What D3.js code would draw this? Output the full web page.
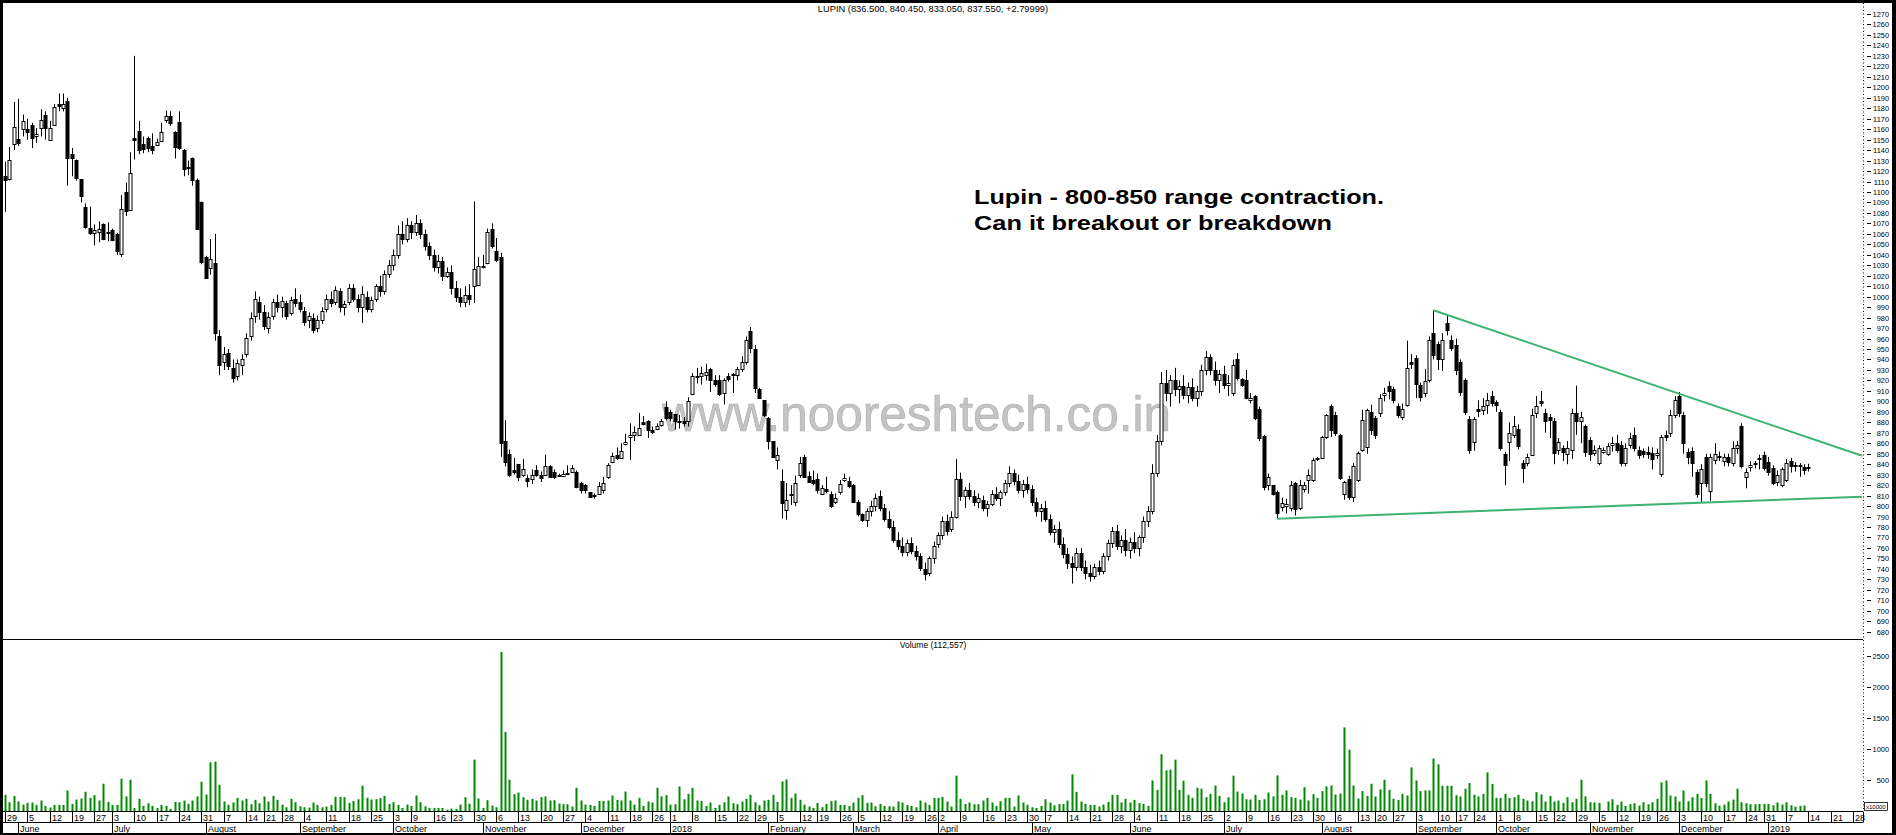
<!DOCTYPE html>
<html><head><meta charset="utf-8">
<script src="https://cdn.jsdelivr.net/npm/d3@7"></script>
<style>
html,body{margin:0;padding:0;background:#fff;overflow:hidden;}
svg{display:block;}
text{font-family:"Liberation Sans",Arial,sans-serif;}
</style></head><body>
<svg id="c" width="1896" height="835"></svg>
<script>
// ---------------- DATA ----------------
const title = "LUPIN (836.500, 840.450, 833.050, 837.550, +2.79999)";
const volumeTitle = "Volume (112,557)";
const noteLines = ["Lupin - 800-850 range contraction.", "Can it breakout or breakdown"];
const watermark = "www.nooreshtech.co.in";
const firstDay = "2017-05-29";
const lastAxisDay = "2019-01-30";
const holidays = ["2017-06-26","2017-08-15","2017-08-25","2017-10-02","2017-10-20","2017-12-25",
 "2018-01-26","2018-02-13","2018-03-02","2018-03-29","2018-03-30","2018-05-01","2018-08-15","2018-08-22",
 "2018-09-13","2018-09-20","2018-10-02","2018-10-18","2018-11-08","2018-11-23","2018-12-25"];
const monthNames = ["January","February","March","April","May","June","July","August","September","October","November","December"];
const priceTicks = [680,690,700,710,720,730,740,750,760,770,780,790,800,810,820,830,840,850,860,870,880,890,900,910,920,930,940,950,960,970,980,990,1000,1010,1020,1030,1040,1050,1060,1070,1080,1090,1100,1110,1120,1130,1140,1150,1160,1170,1180,1190,1200,1210,1220,1230,1240,1250,1260,1270];
const volumeTicks = [500,1000,1500,2000,2500];
const volumeUnit = "x10000";
// trend lines: [trading-day index, price]
const upperTrend = [[320,987],[416,848]];
const lowerTrend = [[285,788],[416,809]];

// daily candles [open, high, low, close] from 29 May 2017
const ohlc = [
// 0
[1115,1129,1081,1111],[1112,1143,1111,1131],[1146,1186,1140,1162],[1151,1189,1144,1147],[1160,1174,1153,1168],
[1160,1170,1150,1157],[1164,1166,1142,1152],[1153,1161,1147,1155],[1161,1179,1153,1169],[1174,1177,1150,1161],
// 10
[1150,1168,1150,1161],[1164,1184,1163,1181],[1184,1194,1177,1182],[1180,1194,1177,1184],[1187,1190,1106,1132],
[1136,1142,1115,1132],[1131,1131,1111,1113],[1112,1112,1090,1096],[1086,1089,1065,1067],[1066,1086,1059,1061],
// 20
[1061,1069,1049,1064],[1062,1072,1052,1065],[1069,1070,1054,1055],[1062,1071,1053,1061],[1064,1065,1053,1054],
[1060,1061,1040,1044],[1041,1097,1038,1084],[1100,1109,1077,1082],[1083,1138,1082,1118],[1152,1230,1131,1150],
// 30
[1158,1168,1136,1140],[1146,1153,1137,1141],[1152,1153,1138,1142],[1144,1156,1136,1140],[1145,1151,1144,1148],
[1149,1166,1148,1157],[1169,1178,1166,1173],[1173,1177,1163,1166],[1157,1158,1132,1143],[1167,1177,1140,1142],
// 40
[1140,1141,1115,1122],[1123,1130,1116,1124],[1132,1133,1106,1111],[1111,1113,1064,1065],[1090,1091,1031,1033],
[1038,1039,1017,1018],[1027,1055,1021,1036],[1032,1060,958,965],[962,968,925,935],[938,952,930,945],
// 50
[946,950,930,934],[932,940,918,922],[924,940,920,937],[935,945,925,940],[945,965,942,961],
[962,985,958,980],[982,1005,975,998],[995,1000,978,985],[985,992,968,972],[970,985,965,981],
// 60
[982,998,978,995],[995,1002,985,990],[990,1000,980,996],[994,996,978,982],[984,1000,982,997],
[998,1008,990,994],[995,1002,985,988],[986,990,972,976],[978,985,970,982],[980,984,965,968],
// 70
[970,982,966,978],[978,990,974,986],[988,1002,985,998],[998,1005,990,994],[995,1010,992,1006],
[1005,1008,985,990],[990,996,982,993],[995,1012,992,1008],[1008,1012,995,998],[998,1002,985,990],
// 80
[990,1010,975,1003],[1000,1005,985,988],[988,1000,985,997],[998,1012,995,1010],[1010,1020,1000,1005],
[1005,1025,1002,1022],[1022,1035,1018,1030],[1030,1045,1025,1040],[1040,1068,1036,1060],[1060,1072,1050,1055],
// 90
[1055,1075,1052,1068],[1068,1072,1055,1062],[1062,1078,1058,1070],[1070,1074,1055,1060],[1060,1064,1044,1048],
[1048,1052,1035,1040],[1040,1045,1024,1028],[1028,1040,1022,1034],[1034,1038,1015,1020],[1020,1028,1018,1024],
// 100
[1024,1030,1002,1008],[1008,1015,995,1000],[1000,1008,990,995],[995,1010,990,1002],[1002,1012,992,998],
[1010,1091,994,1026],[1011,1038,1010,1029],[1029,1040,1027,1028],[1032,1065,1031,1062],[1065,1070,1046,1048],
// 110
[1044,1056,1033,1035],[1038,1042,847,860],[862,882,838,842],[850,854,828,830],[834,846,830,833],
[840,840,824,828],[830,845,828,835],[827,830,818,824],[826,835,821,830],[834,839,828,830],
// 120
[830,833,823,827],[830,849,829,838],[838,839,827,828],[833,835,826,828],[830,831,828,829],
[829,834,828,831],[831,839,830,832],[833,839,832,836],[833,834,817,818],[822,823,812,815],
// 130
[820,821,812,815],[813,813,809,809],[811,812,807,810],[812,823,811,819],[815,828,812,822],
[828,841,826,839],[842,851,841,848],[849,856,844,846],[846,860,846,853],[859,869,858,861],
// 140
[866,879,844,868],[868,876,862,871],[868,889,867,875],[880,886,877,878],[881,882,865,873],
[873,876,869,871],[874,879,873,876],[877,883,876,881],[895,900,882,884],[890,892,881,884],
// 150
[888,888,873,881],[881,887,874,880],[881,885,876,879],[881,904,876,900],[907,927,906,924],
[923,932,917,924],[924,933,916,927],[925,936,920,928],[931,932,909,920],[920,925,914,917],
// 160
[920,925,905,907],[908,922,897,920],[924,927,919,921],[926,927,908,925],[925,933,920,931],
[931,943,928,938],[938,962,935,959],[967,971,946,951],[950,954,908,913],[912,913,903,903],
// 170
[901,901,885,887],[884,885,854,862],[862,862,846,847],[844,856,835,849],[824,835,788,803],
[796,822,787,806],[811,820,801,812],[804,829,800,822],[830,847,827,841],[847,849,827,828],
// 180
[829,833,822,823],[825,834,820,822],[826,831,812,815],[812,820,811,817],[816,828,812,814],
[812,814,798,800],[804,812,802,808],[813,825,811,821],[825,831,823,827],[824,828,817,819],
// 190
[820,821,803,804],[804,806,790,792],[792,793,785,787],[787,798,780,795],[795,805,790,800],
[800,812,795,808],[810,815,795,798],[798,802,785,788],[788,795,778,780],[780,786,765,768],
// 200
[768,775,758,762],[762,770,752,756],[756,768,752,765],[765,770,754,757],[757,762,748,752],
[752,755,738,741],[740,746,729,735],[736,752,733,750],[750,766,745,762],[764,775,760,772],
// 210
[772,790,768,786],[786,792,772,776],[778,795,775,790],[790,845,788,826],[826,832,805,810],
[810,818,798,815],[815,822,806,810],[810,815,800,804],[804,812,798,808],[806,810,795,798],
// 220
[798,805,790,802],[802,815,800,812],[812,818,805,808],[808,815,800,813],[813,825,810,822],
[822,838,818,832],[832,835,820,824],[824,830,812,815],[815,825,808,821],[821,828,812,816],
// 230
[816,820,800,804],[804,808,790,795],[795,802,785,798],[798,805,785,788],[788,792,772,775],
[775,782,765,778],[778,785,760,764],[764,770,750,754],[754,760,740,746],[746,752,726,742],
// 240
[742,760,738,755],[755,760,738,742],[742,748,730,736],[736,744,728,733],[733,745,730,742],
[742,748,734,738],[738,755,735,752],[752,768,748,765],[765,780,760,776],[776,782,758,762],
// 250
[762,772,755,768],[768,778,752,758],[758,770,750,766],[766,775,755,760],[760,772,752,770],
[770,790,765,786],[786,800,780,795],[795,840,792,832],[832,868,828,862],[862,928,858,918],
// 260
[918,930,900,908],[908,925,895,920],[920,932,905,912],[912,920,898,915],[915,925,902,906],
[906,918,898,914],[914,922,900,903],[903,915,895,910],[910,935,905,930],[930,948,925,942],
// 270
[942,945,925,930],[930,938,915,920],[920,930,908,926],[926,934,912,916],[916,925,905,918],
[908,940,905,935],[940,946,920,922],[921,922,914,916],[920,930,902,903],[901,908,898,903],
// 280
[905,906,882,884],[893,895,862,865],[867,868,815,818],[820,831,815,828],[820,820,810,812],
[813,815,788,793],[799,808,795,803],[800,807,793,802],[798,824,795,820],[822,823,791,797],
// 290
[798,825,796,820],[816,823,813,820],[825,835,812,830],[825,846,823,844],[845,847,843,846],
[846,867,845,866],[866,888,864,887],[896,897,866,873],[887,890,867,870],[868,869,825,827],
// 300
[812,824,806,823],[826,829,806,809],[809,841,804,838],[825,852,823,851],[854,892,852,882],
[856,893,850,892],[890,897,868,873],[884,886,864,868],[889,907,885,903],[906,913,900,908],
// 310
[915,919,902,910],[912,914,898,901],[896,898,884,887],[885,898,882,893],[897,958,895,932],
[938,945,931,936],[941,944,903,917],[916,918,900,904],[908,931,904,919],[920,962,918,959],
// 320
[965,987,940,944],[955,957,930,940],[940,965,929,959],[975,982,963,968],[959,963,948,951],
[954,960,925,930],[938,940,905,909],[920,922,887,890],[883,886,850,854],[861,885,853,883],
// 330
[893,901,885,891],[892,903,887,896],[897,908,888,901],[905,910,895,898],[899,901,890,897],
[890,892,853,855],[850,852,820,839],[861,880,843,870],[868,886,865,876],[874,878,854,857],
// 340
[841,844,822,836],[841,850,838,847],[849,893,848,887],[889,905,884,896],[900,910,895,898],
[889,893,870,881],[885,888,865,882],[881,884,840,851],[854,865,849,861],[855,858,843,852],
// 350
[850,862,840,855],[854,893,845,889],[889,915,868,881],[881,890,860,885],[876,878,847,852],
[863,866,843,850],[851,858,848,854],[841,858,839,855],[852,856,850,854],[850,860,848,857],
// 360
[858,866,852,860],[860,868,851,854],[858,862,838,841],[841,860,838,855],[858,870,855,865],
[868,875,852,855],[854,857,845,849],[853,855,846,850],[852,857,845,850],[851,856,835,845],
// 370
[849,855,845,851],[831,868,828,866],[868,872,862,866],[870,892,866,887],[887,905,884,901],
[905,909,885,889],[887,890,850,860],[852,855,840,847],[853,856,828,841],[833,835,808,812],
// 380
[822,840,804,835],[847,850,818,822],[814,850,805,847],[844,860,840,850],[848,852,843,847],
[843,850,838,847],[847,850,838,842],[841,862,838,855],[855,862,850,858],[876,879,836,838],
// 390
[828,836,817,833],[837,843,833,839],[841,843,836,840],[846,849,835,845],[849,852,834,836],
[842,847,829,833],[836,839,820,822],[823,834,819,830],[820,837,818,835],[825,845,823,841],
// 400
[843,846,832,838],[839,842,833,838],[839,841,828,838],[837,840,830,834.75],[836.5,840.45,833.05,837.55]
];

// daily volume (x10000 shares)
const volume = [
270,151,253,162,113,140,146,108,178,92, 65,108,108,108,340,124,194,210,318,221,
264,178,447,156,108,108,528,243,512,59, 205,92,135,92,59,108,92,43,156,151,
178,124,178,243,480,275,792,803,431,162, 108,146,221,178,205,119,189,135,243,162,
253,189,113,70,205,151,86,70,65,146, 108,70,81,108,237,237,232,140,172,199,
415,221,194,199,216,253,124,151,108,59, 113,92,259,151,86,59,59,59,59,32,
49,43,113,232,129,835,210,59,183,97, 70,2566,1278,512,280,307,232,189,205,178,
232,243,178,183,129,119,119,81,383,178, 113,108,92,172,172,178,259,189,178,323,
178,113,221,92,162,146,383,243,264,113, 119,404,199,286,383,178,172,92,146,59,
108,151,243,135,119,162,205,270,151,102, 178,189,270,156,485,517,221,291,189,113,
81,59,140,70,124,172,178,108,108,92, 146,221,264,140,146,86,124,92,86,81,
162,146,108,92,70,178,146,108,221,221, 237,162,81,577,205,124,146,119,119,178,
221,146,92,167,221,221,81,259,146,108, 70,59,92,199,146,102,124,124,178,598,
318,162,124,108,108,81,113,156,270,270, 146,205,146,189,135,124,92,501,350,922,
663,674,835,350,496,270,221,383,367,232, 286,420,253,151,232,577,323,291,199,194,
270,189,199,307,243,582,270,340,232,221, 194,393,178,280,221,329,404,420,275,291,
1353,997,420,210,329,253,447,243,356,512, 350,205,189,286,259,711,501,329,340,340,
852,760,415,415,415,264,243,367,458,270, 243,286,631,447,221,221,286,221,232,270,
205,178,167,313,275,162,253,162,178,140, 232,151,205,512,243,151,146,140,16,162,
199,108,162,92,119,135,97,151,119,151, 205,469,501,259,243,162,340,167,232,286,
221,501,286,135,97,113,162,194,367,151, 135,119,119,124,124,124,102,146,113,151,
102,81,92,97,11
];

// ---------------- LAYOUT ----------------
const W = 1896, H = 835;
const plotL = 3, plotR = 1863, priceTop = 3, priceBottom = 639.5;
const volTop = 640, volBase = 811.6;
const svg = d3.select("#c");

// trading calendar (weekdays minus exchange holidays)
const hol = new Set(holidays);
const dates = [];
{
  const s = new Date(firstDay + "T00:00:00Z"), e = new Date(lastAxisDay + "T00:00:00Z");
  for (let d = new Date(s); d <= e; d = new Date(d.getTime() + 86400000)) {
    const wd = d.getUTCDay();
    if (wd === 0 || wd === 6) continue;
    const iso = d.toISOString().slice(0, 10);
    if (hol.has(iso)) continue;
    dates.push(new Date(d));
  }
}
const keys = dates.map((d, i) => i);
const step = 4.464;
const x = d3.scalePoint().domain(keys).range([5, 5 + step * (keys.length - 1)]);
const y = d3.scaleLinear().domain([680, 1270]).range([631.7, 14]);
const yv = d3.scaleLinear().domain([0, 2500]).range([volBase, 656]);

const candles = ohlc.map((r, i) => ({i, o: r[0], h: r[1], l: r[2], c: r[3]}));
const vols = volume.map((v, i) => ({i, v}));

// background
svg.append("rect").attr("width", W).attr("height", H).attr("fill", "#fff");

const defs = svg.append("defs");
defs.append("clipPath").attr("id", "pclip").append("rect")
  .attr("x", plotL).attr("y", priceTop).attr("width", plotR - plotL).attr("height", priceBottom - priceTop);
defs.append("clipPath").attr("id", "vclip").append("rect")
  .attr("x", plotL).attr("y", volTop).attr("width", plotR - plotL).attr("height", volBase - volTop);

// watermark (below marks)
svg.append("text").attr("x", 662).attr("y", 431)
  .attr("font-family", "'Liberation Sans', Arial, sans-serif").attr("font-size", 49.5)
  .attr("fill", "#c4c4c4").attr("stroke", "#ababab").attr("stroke-width", 0.6)
  .text(watermark);

// titles
svg.append("text").attr("x", (plotL + plotR) / 2).attr("y", 12).attr("text-anchor", "middle")
  .attr("font-size", 9.3).attr("fill", "#000").text(title);
svg.append("text").attr("x", (plotL + plotR) / 2).attr("y", 647.5).attr("text-anchor", "middle")
  .attr("font-size", 8.5).attr("fill", "#000").text(volumeTitle);

// candles
const pg = svg.append("g").attr("clip-path", "url(#pclip)");
const cx = i => Math.round(x(i));
pg.selectAll("line.wick").data(candles).join("line").attr("class", "wick")
  .attr("x1", d => cx(d.i) + 0.5).attr("x2", d => cx(d.i) + 0.5)
  .attr("y1", d => y(d.h)).attr("y2", d => y(d.l))
  .attr("stroke", "#000").attr("stroke-width", 1);
pg.selectAll("rect.body").data(candles).join("rect").attr("class", "body")
  .attr("x", d => cx(d.i) - 1)
  .attr("width", 3)
  .attr("y", d => Math.round(y(Math.max(d.o, d.c))) + 0.5)
  .attr("height", d => Math.max(1, Math.round(y(Math.min(d.o, d.c))) - Math.round(y(Math.max(d.o, d.c)))))
  .attr("fill", d => d.c > d.o ? "#fff" : "#000")
  .attr("stroke", "#000").attr("stroke-width", 1);

// trend lines
const tl = d3.line().x(p => x(p[0])).y(p => y(p[1]));
[upperTrend, lowerTrend].forEach(t => {
  pg.append("path").attr("d", tl(t)).attr("fill", "none")
    .attr("stroke", "#3cb371").attr("stroke-width", 2);
});

// annotation
const ann = svg.append("g").attr("font-family", "'DejaVu Sans', Verdana, sans-serif")
  .attr("font-weight", "bold").attr("font-size", 21).attr("fill", "#000");
ann.append("text").attr("x", 974).attr("y", 204).attr("textLength", 410)
  .attr("lengthAdjust", "spacingAndGlyphs").text(noteLines[0]);
ann.append("text").attr("x", 974).attr("y", 230).attr("textLength", 358)
  .attr("lengthAdjust", "spacingAndGlyphs").text(noteLines[1]);

// volume bars
const vg = svg.append("g").attr("clip-path", "url(#vclip)");
vg.selectAll("rect").data(vols).join("rect")
  .attr("x", d => cx(d.i) - 0.5).attr("width", 2)
  .attr("y", d => yv(d.v)).attr("height", d => volBase - yv(d.v))
  .attr("fill", "#008c00");

// pane separator
svg.append("line").attr("x1", plotL).attr("x2", plotR).attr("y1", 639.5).attr("y2", 639.5)
  .attr("stroke", "#000");

// right axes (dotted spine + dashes + labels)
const ax = svg.append("g");
ax.append("line").attr("x1", plotR + 0.5).attr("x2", plotR + 0.5).attr("y1", priceTop).attr("y2", 811)
  .attr("stroke", "#000").attr("stroke-dasharray", "1,2.5");
ax.selectAll("line.pt").data(priceTicks).join("line").attr("class", "pt")
  .attr("x1", 1867).attr("x2", 1871).attr("y1", d => Math.round(y(d)) + 0.5).attr("y2", d => Math.round(y(d)) + 0.5)
  .attr("stroke", "#000");
ax.selectAll("text.pt").data(priceTicks).join("text").attr("class", "pt")
  .attr("x", 1889).attr("y", d => y(d) + 3).attr("text-anchor", "end")
  .attr("font-size", 7.4).attr("fill", "#000").text(d => d);
ax.selectAll("line.vt").data(volumeTicks).join("line").attr("class", "vt")
  .attr("x1", 1867).attr("x2", 1871).attr("y1", d => Math.round(yv(d)) + 0.5).attr("y2", d => Math.round(yv(d)) + 0.5)
  .attr("stroke", "#000");
ax.selectAll("text.vt").data(volumeTicks).join("text").attr("class", "vt")
  .attr("x", 1889).attr("y", d => yv(d) + 3).attr("text-anchor", "end")
  .attr("font-size", 7.4).attr("fill", "#000").text(d => d);
ax.append("rect").attr("x", 1864.5).attr("y", 802.5).attr("width", 23).attr("height", 8)
  .attr("fill", "#fff").attr("stroke", "#000").attr("stroke-width", 0.8);
ax.append("text").attr("x", 1866).attr("y", 809).attr("font-size", 6).text(volumeUnit);

// x axis: two rows
const xa = svg.append("g");
xa.append("line").attr("x1", plotL).attr("x2", plotR).attr("y1", 811.5).attr("y2", 811.5).attr("stroke", "#000");
xa.append("line").attr("x1", plotL).attr("x2", plotR).attr("y1", 822.5).attr("y2", 822.5).attr("stroke", "#000");
xa.append("line").attr("x1", plotR + 0.5).attr("x2", plotR + 0.5).attr("y1", 811.5).attr("y2", 822.5).attr("stroke", "#000");
const weekTicks = [], monthTicks = [];
dates.forEach((d, i) => {
  const p = dates[i - 1];
  if (i === 0 || d.getUTCDay() <= p.getUTCDay() || (d - p) >= 7 * 86400000) weekTicks.push(i);
  if (i > 0 && d.getUTCMonth() !== p.getUTCMonth()) monthTicks.push(i);
});
xa.selectAll("line.wk").data(weekTicks).join("line").attr("class", "wk")
  .attr("x1", i => cx(i) + 0.5).attr("x2", i => cx(i) + 0.5).attr("y1", 811.5).attr("y2", 822.5).attr("stroke", "#000");
xa.selectAll("text.wk").data(weekTicks).join("text").attr("class", "wk")
  .attr("x", i => cx(i) + 2).attr("y", 820.5).attr("font-size", 9).attr("fill", "#000")
  .text(i => dates[i].getUTCDate());
xa.selectAll("line.mo").data(monthTicks).join("line").attr("class", "mo")
  .attr("x1", i => cx(i) + 0.5).attr("x2", i => cx(i) + 0.5).attr("y1", 822.5).attr("y2", 833).attr("stroke", "#000");
xa.selectAll("text.mo").data(monthTicks).join("text").attr("class", "mo")
  .attr("x", i => cx(i) + 2).attr("y", 831.5).attr("font-size", 9).attr("fill", "#000")
  .text(i => dates[i].getUTCMonth() === 0 ? dates[i].getUTCFullYear() : monthNames[dates[i].getUTCMonth()]);

// frame
svg.append("rect").attr("x", 0).attr("y", 0).attr("width", W).attr("height", 3).attr("fill", "#000");
svg.append("rect").attr("x", 0).attr("y", 0).attr("width", 3).attr("height", H).attr("fill", "#000");
svg.append("rect").attr("x", 1892).attr("y", 0).attr("width", 4).attr("height", H).attr("fill", "#000");
svg.append("rect").attr("x", 0).attr("y", 833).attr("width", W).attr("height", 2).attr("fill", "#000");
</script>
</body></html>
